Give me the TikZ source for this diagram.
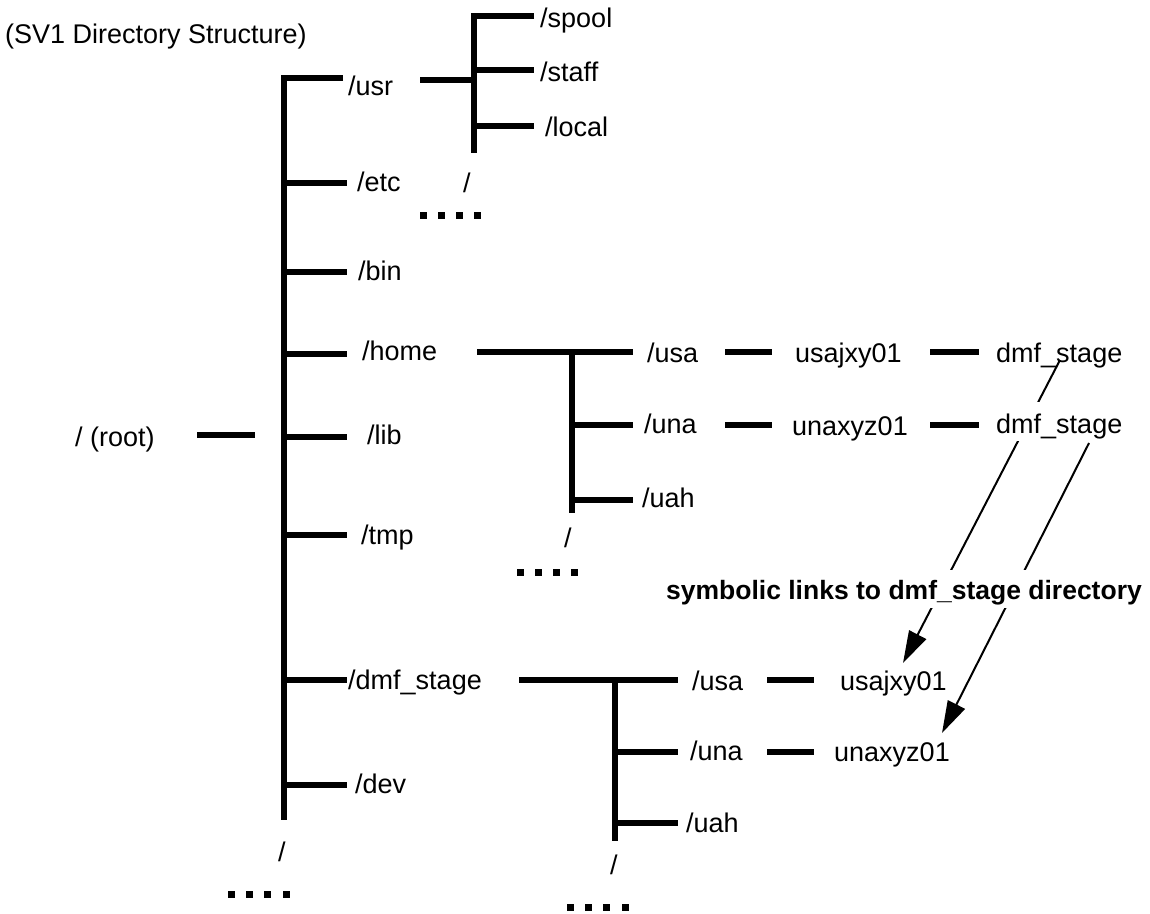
\documentclass[tikz,border=0pt]{standalone}
\usepackage{fontspec}
\setmainfont{Liberation Sans}
\usetikzlibrary{arrows.meta,backgrounds}
\begin{document}
\begin{tikzpicture}[x=1pt,y=-1pt,
  lbl/.style={anchor=base west,inner sep=0pt,font=\fontsize{27}{31}\selectfont},
  bar/.style={line width=6pt},
  link/.style={line width=2pt,-{Triangle[length=32pt,width=19pt]}},
  dot/.style={fill=black},
]
\useasboundingbox (0,0) rectangle (1150,913);

% ---- labels ----
\node[lbl] (title) at (5,43) {(SV1 Directory Structure)};
\node[lbl] (root) at (75,446) {/ (root)};
\node[lbl] (usr) at (348,95) {/usr};
\node[lbl] (etc) at (357,191) {/etc};
\node[lbl] (bin) at (358,280) {/bin};
\node[lbl] (home) at (362,360) {/home};
\node[lbl] (lib) at (367,444) {/lib};
\node[lbl] (tmp) at (361,544) {/tmp};
\node[lbl] (dmf) at (348,689) {/dmf\_stage};
\node[lbl] (dev) at (355,793) {/dev};
\node[lbl] (rootmore) at (278,861) {/};

\node[lbl] (spool) at (540,27) {/spool};
\node[lbl] (staff) at (540,81) {/staff};
\node[lbl] (local) at (545,136) {/local};
\node[lbl] (usrmore) at (463,192) {/};

\node[lbl] (husa) at (647,362) {/usa};
\node[lbl] (huna) at (644,433) {/una};
\node[lbl] (huah) at (642,507) {/uah};
\node[lbl] (homemore) at (564,547) {/};
\node[lbl] (hu1) at (795,362) {usajxy01};
\node[lbl] (hu2) at (792,435) {unaxyz01};
\node[lbl] (ds1) at (996,362) {dmf\_stage};
\node[lbl,fill=white,text height=31pt,text depth=8pt] (ds2) at (996,433) {dmf\_stage};

\node[lbl] (susa) at (692,690) {/usa};
\node[lbl] (suna) at (690,760) {/una};
\node[lbl] (suah) at (686,832) {/uah};
\node[lbl] (stagemore) at (610,874) {/};
\node[lbl] (su1) at (840,690) {usajxy01};
\node[lbl] (su2) at (834,761) {unaxyz01};

\node[lbl,anchor=base east,font={\fontsize{26.5}{30}\selectfont\bfseries},
      fill=white,inner xsep=3pt,text height=29pt,text depth=9pt] (note)
      at (1145,599) {symbolic links to dmf\_stage directory};

% ---- main tree ----
\draw[bar] (343,77.5) -- (284,77.5) -- (284,820);
\foreach \y in {183,272,354,437,535,680,785}
  \draw[bar] (284,\y) -- (347,\y);
\draw[bar] (197,435) -- (255,435);

% ---- /usr subtree ----
\draw[bar] (420,79.5) -- (471,79.5);
\draw[bar] (534,16) -- (474,16) -- (474,153);
\draw[bar] (474,70) -- (534,70);
\draw[bar] (474,126) -- (534,126);

% ---- /home subtree ----
\draw[bar] (477,352) -- (633,352);
\draw[bar] (572,352) -- (572,513);
\draw[bar] (572,425) -- (633,425);
\draw[bar] (572,500) -- (633,500);
\draw[bar] (725,352) -- (772,352);
\draw[bar] (930,352) -- (979,352);
\draw[bar] (725,425) -- (772,425);
\draw[bar] (930,425) -- (979,425);

% ---- /dmf_stage subtree ----
\draw[bar] (519,680) -- (678,680);
\draw[bar] (615,680) -- (615,841);
\draw[bar] (615,752) -- (678,752);
\draw[bar] (615,823) -- (678,823);
\draw[bar] (767,680) -- (814,680);
\draw[bar] (767,752) -- (814,752);

% ---- ellipsis dots ----
\foreach \i in {0,...,3} {
  \fill[dot] ({420+18*\i},211.5) rectangle ++(7,7);
  \fill[dot] ({516.5+18*\i},568.5) rectangle ++(7,7);
  \fill[dot] ({228+18.2*\i},891) rectangle ++(7,7);
  \fill[dot] ({566.7+18.3*\i},904) rectangle ++(7,7);
}

% ---- symbolic links (behind the labels) ----
\begin{pgfonlayer}{background}
  \fill[white] (0,0) rectangle (1150,913);
  \coordinate (l1s) at (1060,360);
  \coordinate (l1e) at (903,663);
  \coordinate (l2s) at (1089,443);
  \coordinate (l2e) at (942,733);
  \draw[link] (l1s) -- (l1e);
  \draw[link] (l2s) -- (l2e);
\end{pgfonlayer}
\end{tikzpicture}
\end{document}
